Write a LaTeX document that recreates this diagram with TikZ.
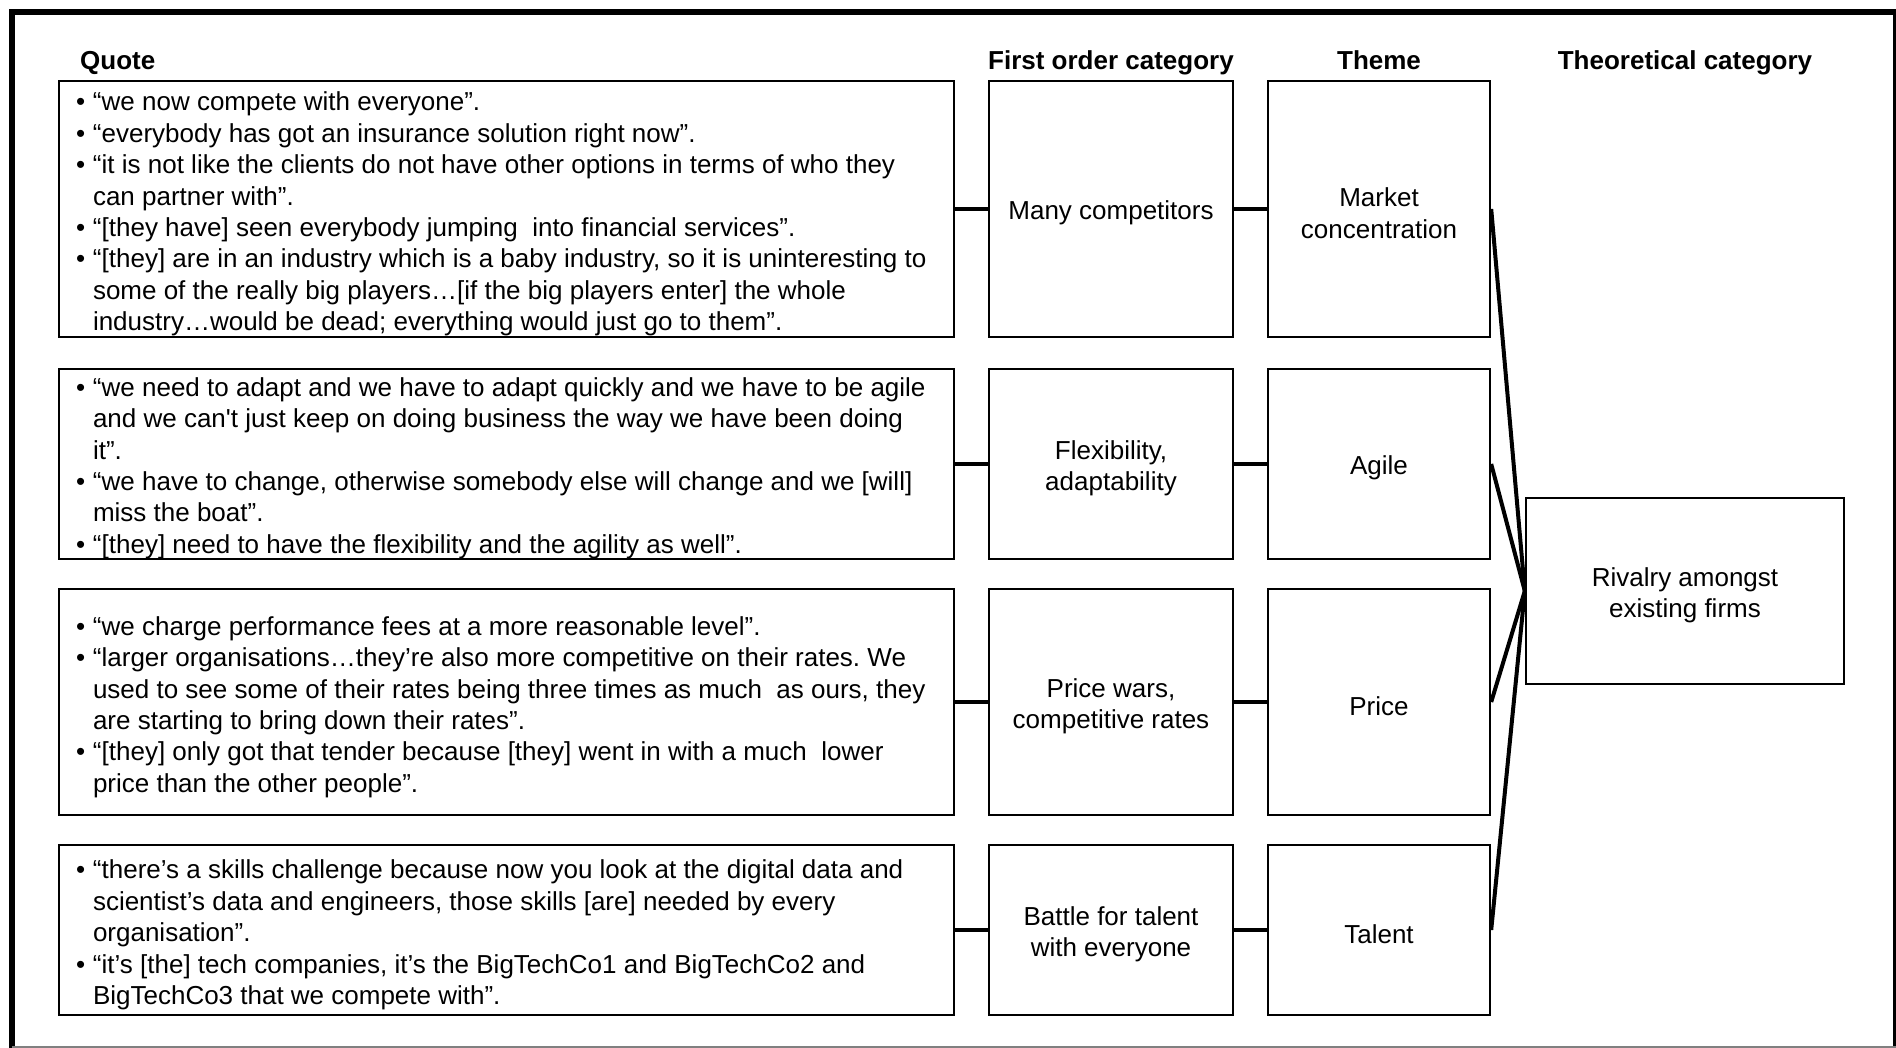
\documentclass[tikz,border=0pt]{standalone}
\usepackage{fontspec}
\setmainfont{Liberation Sans}
\usetikzlibrary{positioning}
\frenchspacing
\newcommand\txtsize{\fontsize{26}{31.4}\selectfont}
\newcommand\qb{\makebox[17pt][l]{•}}
\newcommand\qc{\hspace*{17pt}}
\newcommand\tg{\rule{0pt}{27pt}}

\begin{document}
\begin{tikzpicture}[x=1pt,y=-1pt,font=\txtsize,
    box/.style={draw,line width=2.4pt,inner sep=0pt,align=center},
    qbox/.style={draw,line width=2.4pt,inner sep=0pt,minimum width=895pt},
    qtext/.style={inner sep=0pt,align=left,anchor=west},
    head/.style={font=\txtsize\bfseries,inner sep=0pt,anchor=base},
    link/.style={line width=4pt}]
  \useasboundingbox (0,0) rectangle (1896,1048);
  %%%%% FRAME %%%%%
  \draw[line width=6pt] (12,1048) -- (12,12) -- (1896,12);
  \draw[line width=3pt] (1894.5,12) -- (1894.5,1048);
  \draw[gray,line width=2pt] (12,1047) -- (1896,1047);

  %%%%% HEADERS %%%%%
  \node[head,anchor=base west] (hq) at (80,70) {Quote};
  \node[head] (hf) at (1111,70) {First order category};
  \node[head] (ht) at (1379,70) {Theme};
  \node[head] (hth) at (1685,70) {Theoretical category};

  %%%%% QUOTES %%%%%
  \node[qbox,minimum height=256pt] (q1) at (506.5,209) {};
  \node[qtext] (q1txt) at ([xshift=18pt,yshift=-5pt]q1.west) {%
    \qb “we now compete with everyone”.\\
    \qb “everybody has got an insurance solution right now”.\\
    \qb “it is not like the clients do not have other options in terms of who they\\
    \qc can partner with”.\\
    \qb “[they have] seen everybody jumping\ \ into financial services”.\\
    \qb “[they] are in an industry which is a baby industry, so it is uninteresting to\\
    \qc some of the really big players…[if the big players enter] the whole\\
    \qc industry…would be dead; everything would just go to them”.};
  \node[qbox,minimum height=190pt] (q2) at (506.5,464) {};
  \node[qtext] (q2txt) at ([xshift=18pt,yshift=-4pt]q2.west) {%
    \qb “we need to adapt and we have to adapt quickly and we have to be agile\\
    \qc and we can\textquotesingle t just keep on doing business the way we have been doing\\
    \qc it”.\\
    \qb “we have to change, otherwise somebody else will change and we [will]\\
    \qc miss the boat”.\\
    \qb “[they] need to have the flexibility and the agility as well”.};
  \node[qbox,minimum height=226pt] (q3) at (506.5,702) {};
  \node[qtext] (q3txt) at ([xshift=18pt,yshift=-5pt]q3.west) {%
    \qb “we charge performance fees at a more reasonable level”.\\
    \qb “larger organisations…they’re also more competitive on their rates. We\\
    \qc used to see some of their rates being three times as much\ \ as ours, they\\
    \qc are starting to bring down their rates”.\\
    \qb “[they] only got that tender because [they] went in with a much\ \ lower\\
    \qc price than the other people”.};
  \node[qbox,minimum height=170pt] (q4) at (506.5,930) {};
  \node[qtext] (q4txt) at ([xshift=18pt,yshift=-5pt]q4.west) {%
    \qb “there’s a skills challenge because now you look at the digital data and\\
    \qc scientist’s data and engineers, those skills [are] needed by every\\
    \qc organisation”.\\
    \qb “it’s [the] tech companies, it’s the BigTechCo1 and BigTechCo2 and\\
    \qc BigTechCo3 that we compete with”.};

  %%%%% CATEGORIES AND THEMES %%%%%
  \node[box,minimum width=244pt,minimum height=256pt,right=32.6pt of q1] (f1) {\tg Many competitors};
  \node[box,minimum width=222pt,minimum height=256pt,right=32.6pt of f1] (t1) {\tg Market\\concentration};
  \node[box,minimum width=244pt,minimum height=190pt,right=32.6pt of q2] (f2) {\tg Flexibility,\\adaptability};
  \node[box,minimum width=222pt,minimum height=190pt,right=32.6pt of f2] (t2) {\tg Agile};
  \node[box,minimum width=244pt,minimum height=226pt,right=32.6pt of q3] (f3) {\tg Price wars,\\competitive rates};
  \node[box,minimum width=222pt,minimum height=226pt,right=32.6pt of f3] (t3) {\tg Price};
  \node[box,minimum width=244pt,minimum height=170pt,right=32.6pt of q4] (f4) {\tg Battle for talent\\with everyone};
  \node[box,minimum width=222pt,minimum height=170pt,right=32.6pt of f4] (t4) {\tg Talent};

  \node[box,minimum width=318pt,minimum height=186pt] (th) at (1685,591) {\tg Rivalry amongst\\existing firms};

  %%%%% LINKS %%%%%
  \foreach \i in {1,...,4}{
    \draw[link] (q\i) -- (f\i);
    \draw[link] (f\i) -- (t\i);
    \draw[link] (t\i.east) -- (th.west);
  }
\end{tikzpicture}
\end{document}
